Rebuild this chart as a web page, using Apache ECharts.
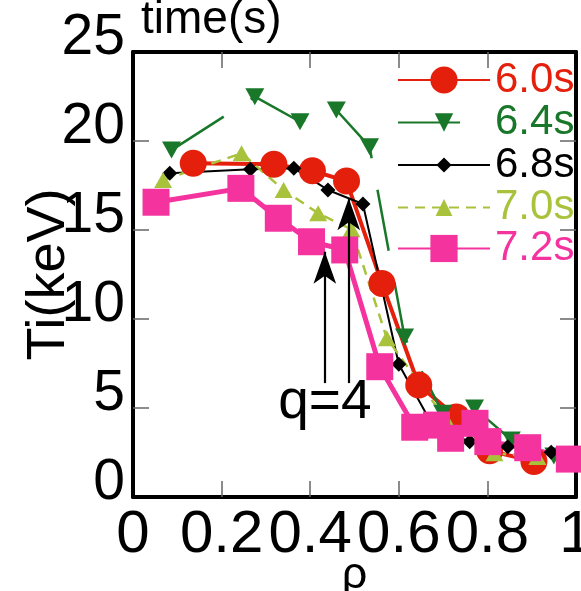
<!DOCTYPE html>
<html>
<head>
<meta charset="utf-8">
<script src="https://cdn.jsdelivr.net/npm/echarts@6/dist/echarts.min.js"></script>
<style>
  html, body { margin: 0; padding: 0; background: #fff; }
  #chart { width: 581px; height: 591px; }
</style>
</head>
<body>
<div id="chart"></div>
<script>
// Ion temperature profiles Ti(rho) at several times
const seriesNames = ['6.0s', '6.4s', '6.8s', '7.0s', '7.2s'];

const rho60 = [0.136, 0.318, 0.405, 0.482, 0.562, 0.645, 0.730, 0.805, 0.905];
const ti60  = [18.75, 18.69, 18.33, 17.75, 12.0, 6.29, 4.5, 2.6, 2.0];

const rho64 = [0.087, 0.275, 0.377, 0.459, 0.534, 0.613, 0.699, 0.771, 0.854, 0.950];
const ti64  = [19.49, 22.49, 21.08, 21.74, 19.68, 8.99, 4.7, 5.0, 3.2, 2.3];

const rho68 = [0.083, 0.265, 0.363, 0.440, 0.519, 0.600, 0.676, 0.760, 0.846, 0.944];
const ti68  = [18.19, 18.41, 18.47, 17.25, 16.46, 7.46, 4.04, 3.1, 2.83, 2.51];

const rho70 = [0.068, 0.245, 0.340, 0.418, 0.493, 0.573, 0.707, 0.816, 0.913];
const ti70  = [17.81, 19.31, 17.25, 15.94, 15.04, 8.92, 4.33, 2.46, 2.25];

const rho72 = [0.052, 0.2435, 0.328, 0.403, 0.478, 0.557, 0.636, 0.685, 0.717, 0.772, 0.801, 0.891, 0.985];
const ti72  = [16.56, 17.34, 15.66, 14.34, 13.88, 7.32, 3.92, 4.04, 3.30, 4.14, 3.11, 2.77, 2.13];

// q=4 surface positions (arrows) and label
const arrowRho  = [0.433, 0.487];
const arrowBase = [6.4, 6.4];
const arrowTip  = [13.78, 16.78];
const qLabel = 'q=4';
const qLabelAt = [0.433, 5.28];

// inner tick positions
const xTickValues = [0.2, 0.4, 0.6, 0.8];
const yTickValues = [5, 10, 15, 20];

const FONT = 'Liberation Sans, Arial, Helvetica, sans-serif';
const colors = ['#e41f0b', '#19772a', '#000000', '#a9c23c', '#f5339f'];

function pairs(xs, ys) { return xs.map((x, i) => [x, ys[i]]); }

const tickStyle = { show: true, inside: true, length: 16, lineStyle: { color: '#666', width: 1.5 } };
const axisLineStyle = { show: true, onZero: false, lineStyle: { color: '#000', width: 4 } };

const chart = echarts.init(document.getElementById('chart'), null, { renderer: 'canvas' });

// per-row legend settings (one legend per series so each icon keeps its own size)
const legendRows = [
  { center: 80,    h: 34 },
  { center: 122.5, h: 23 },
  { center: 165,   h: 19 },
  { center: 207.5, h: 21 },
  { center: 248.5, h: 34 }
];

const option = {
  animation: false,
  backgroundColor: '#fff',
  textStyle: { fontFamily: FONT },
  title: {
    text: 'time(s)', left: 141, top: -3, padding: 0,
    textStyle: { fontSize: 46, fontWeight: 'normal', color: '#000', fontFamily: FONT }
  },
  legend: seriesNames.map((name, i) => ({
    data: [name],
    left: 397,
    top: legendRows[i].center - 29,
    orient: 'horizontal',
    padding: 0,
    itemGap: 0,
    itemWidth: 92,
    itemHeight: legendRows[i].h,
    selectedMode: false,
    textStyle: {
      fontSize: 42, color: colors[i], fontFamily: FONT,
      lineHeight: 40, padding: [18, 0, 0, 0]
    }
  })),
  grid: { left: 133, right: 5, top: 52, bottom: 94, containLabel: false, outerBoundsMode: 'none' },
  xAxis: [
    {
      type: 'value', min: 0, max: 1, interval: 0.2, position: 'bottom',
      name: 'ρ', nameLocation: 'middle', nameGap: 56, nameMoveOverlap: false,
      nameTextStyle: { fontSize: 45, color: '#000', fontFamily: FONT },
      axisLine: axisLineStyle,
      axisTick: Object.assign({ customValues: xTickValues }, tickStyle),
      axisLabel: { fontSize: 60, color: '#000', margin: 8, fontFamily: FONT, showMinLabel: true, showMaxLabel: true },
      splitLine: { show: false }
    },
    {
      type: 'value', min: 0, max: 1, interval: 0.2, position: 'top',
      axisLine: axisLineStyle,
      axisTick: Object.assign({ customValues: xTickValues }, tickStyle),
      axisLabel: { show: false },
      splitLine: { show: false }
    }
  ],
  yAxis: [
    {
      type: 'value', min: 0, max: 25, interval: 5, position: 'left',
      name: 'Ti(keV)', nameLocation: 'middle', nameRotate: 90, nameGap: 57, nameMoveOverlap: false,
      nameTextStyle: { fontSize: 54, color: '#000', fontFamily: FONT },
      axisLine: axisLineStyle,
      axisTick: Object.assign({ customValues: yTickValues }, tickStyle),
      axisLabel: { fontSize: 57, color: '#000', margin: 8, fontFamily: FONT, verticalAlign: 'bottom', lineHeight: 28 },
      splitLine: { show: false }
    },
    {
      type: 'value', min: 0, max: 25, interval: 5, position: 'right',
      axisLine: axisLineStyle,
      axisTick: Object.assign({ customValues: yTickValues }, tickStyle),
      axisLabel: { show: false },
      splitLine: { show: false }
    }
  ],
  series: [
    {
      name: seriesNames[0], type: 'line', data: pairs(rho60, ti60),
      symbol: 'circle', symbolSize: 27,
      lineStyle: { color: colors[0], width: 4 },
      itemStyle: { color: colors[0], borderWidth: 0 }
    },
    {
      name: seriesNames[1], type: 'line', data: pairs(rho64, ti64),
      symbol: 'triangle', symbolRotate: 180, symbolSize: [19, 17],
      lineStyle: { color: colors[1], width: 2.5, type: [62, 32] },
      itemStyle: { color: colors[1], borderWidth: 0 }
    },
    {
      name: seriesNames[2], type: 'line', data: pairs(rho68, ti68),
      symbol: 'diamond', symbolSize: [15, 15],
      lineStyle: { color: colors[2], width: 2 },
      itemStyle: { color: colors[2], borderWidth: 0 }
    },
    {
      name: seriesNames[3], type: 'line', data: pairs(rho70, ti70),
      symbol: 'triangle', symbolSize: [18, 16],
      lineStyle: { color: colors[3], width: 2.5, type: [10, 7] },
      itemStyle: { color: colors[3], borderWidth: 0 }
    },
    {
      name: seriesNames[4], type: 'line', data: pairs(rho72, ti72),
      symbol: 'rect', symbolSize: 27,
      lineStyle: { color: colors[4], width: 5 },
      itemStyle: { color: colors[4], borderWidth: 0 }
    },
    {
      name: 'q-surface', type: 'line', data: [], silent: true,
      markLine: {
        silent: true,
        symbol: ['none', 'arrow'],
        label: { show: false },
        lineStyle: { color: '#000', width: 2.2, type: 'solid' },
        data: arrowRho.map((r, i) => [
          { coord: [r, arrowBase[i]], symbol: 'none' },
          { coord: [r, arrowTip[i]], symbol: 'arrow', symbolSize: [17, 32] }
        ])
      },
      markPoint: {
        silent: true,
        data: [{
          coord: qLabelAt, symbol: 'circle', symbolSize: 0,
          label: { show: true, formatter: qLabel, position: 'inside', fontSize: 55, color: '#000', fontFamily: FONT }
        }]
      }
    }
  ]
};

chart.setOption(option);
</script>
</body>
</html>
